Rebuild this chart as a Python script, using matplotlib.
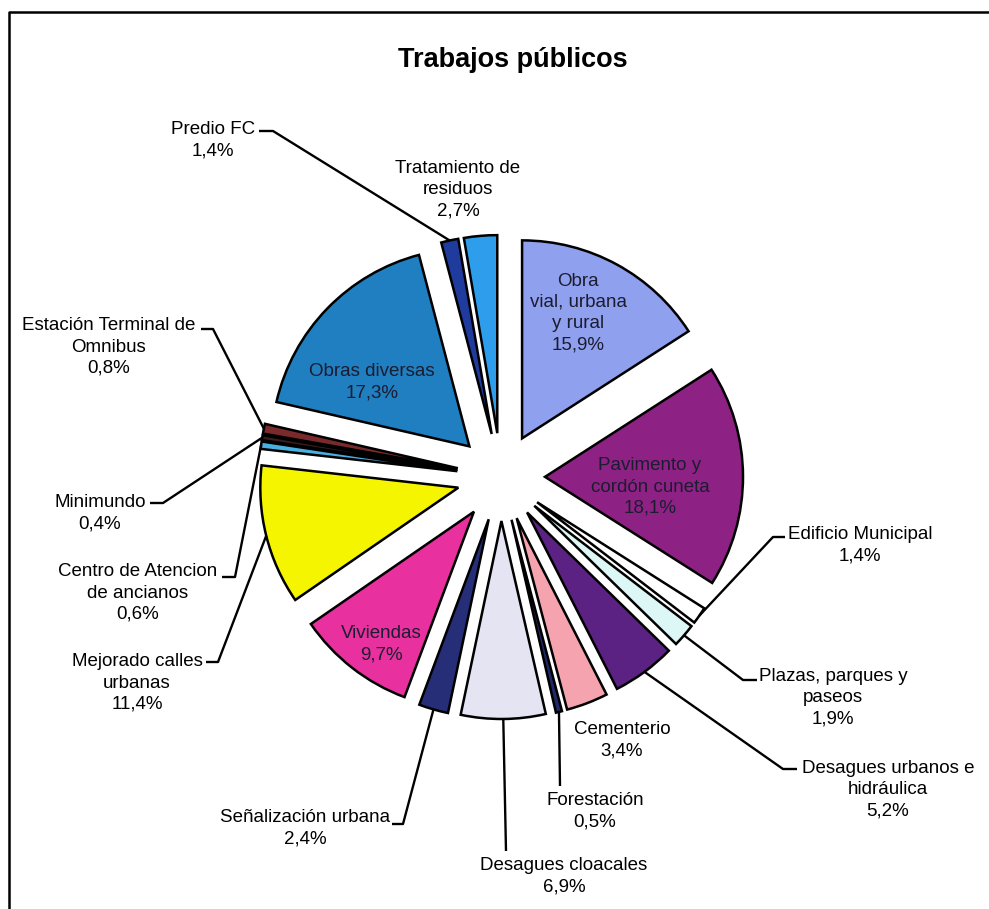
"""Trabajos públicos: exploded pie with Excel-style leader lines."""

import matplotlib.pyplot as plt
import numpy as np

W, H = 989, 909  # canvas in pixels, axes data units == pixels

# ── Data ─────────────────────────────────────────────────────────────────────
labels = [
    "Obra\nvial, urbana\ny rural",
    "Pavimento y\ncordón cuneta",
    "Edificio Municipal",
    "Plazas, parques y\npaseos",
    "Desagues urbanos e\nhidráulica",
    "Cementerio",
    "Forestación",
    "Desagues cloacales",
    "Señalización urbana",
    "Viviendas",
    "Mejorado calles\nurbanas",
    "Centro de Atencion\nde ancianos",
    "Minimundo",
    "Estación Terminal de\nOmnibus",
    "Obras diversas",
    "Predio FC",
    "Tratamiento de\nresiduos",
]
shares = [15.9, 18.1, 1.4, 1.9, 5.2, 3.4, 0.5, 6.9, 2.4, 9.7, 11.4,
          0.6, 0.4, 0.8, 17.3, 1.4, 2.7]

colors = ["#8FA0EE", "#8E2184", "#FFFFFF", "#DDF6F6", "#5C2283", "#F5A3AE",
          "#1F2A6B", "#E4E4F2", "#262E78", "#E8309E", "#F5F500", "#4AB0E0",
          "#3A1C1C", "#7A2A2A", "#1F7FC0", "#1F3B9E", "#2E9DEB"]

# ── Layout (pixel coords, y measured from top) ───────────────────────────────
CX, CY, R, EXPL = 501, 477, 198, 44

label_pos = [(578, 313), (650, 487), (860, 545), (833, 698), (888, 790),
             (622, 740), (595, 811), (564, 876), (305, 828), (381, 644),
             (137, 683), (138, 593), (100, 513), (109, 347), (372, 382),
             (213, 140), (458, 190)]
inside = {0, 1, 9, 14}

# leader: (start next to the text, elbow) -> then to slice outer edge
leaders = {
    2: [(785, 537), (773, 537)],
    3: [(757, 680), (743, 680)],
    4: [(797, 769), (783, 769)],
    6: [(560, 786), (560, 786)],
    7: [(506, 851), (506, 851)],
    8: [(392, 824), (403, 824)],
    10: [(206, 662), (218, 662)],
    11: [(222, 577), (235, 577)],
    12: [(150, 503), (163, 503)],
    13: [(201, 329), (213, 329)],
    15: [(259, 131), (273, 131)],
}

FONT = ["Liberation Sans", "DejaVu Sans"]

fig = plt.figure(figsize=(W / 100, H / 100), dpi=100)
ax = fig.add_axes([0, 0, 1, 1])

wedges, _ = ax.pie(shares, colors=colors, startangle=90, counterclock=False,
                   center=(CX, H - CY), radius=R, explode=[EXPL] * len(shares),
                   wedgeprops=dict(edgecolor="black", linewidth=1.8))
ax.set_xlim(0, W)
ax.set_ylim(0, H)
ax.set_aspect("equal")
ax.axis("off")

for i, (lab, val) in enumerate(zip(labels, shares)):
    x, y = label_pos[i]
    txt = f"{lab}\n{val:.1f}%".replace(".", ",")
    ax.text(x, H - y, txt, ha="center", va="center", fontsize=13.5,
            linespacing=1.32, family=FONT,
            color="#1c1c30" if i in inside else "black")

    if i in leaders:
        w = wedges[i]
        ang = np.deg2rad((w.theta1 + w.theta2) / 2)
        ex = w.center[0] + w.r * np.cos(ang)
        ey = w.center[1] + w.r * np.sin(ang)
        (sx, sy), (bx, by) = leaders[i]
        ax.plot([sx, bx, ex], [H - sy, H - by, ey], color="black", lw=1.7,
                solid_capstyle="butt")

ax.text(513, H - 60, "Trabajos públicos", ha="center", va="center",
        fontsize=19.5, fontweight="bold", family=FONT)

# chart-area border (left and top edges visible in the scan)
ax.plot([9, 9, W + 5], [-5, H - 12, H - 12], color="black", lw=1.8)

fig.savefig("out.png", dpi=100)
